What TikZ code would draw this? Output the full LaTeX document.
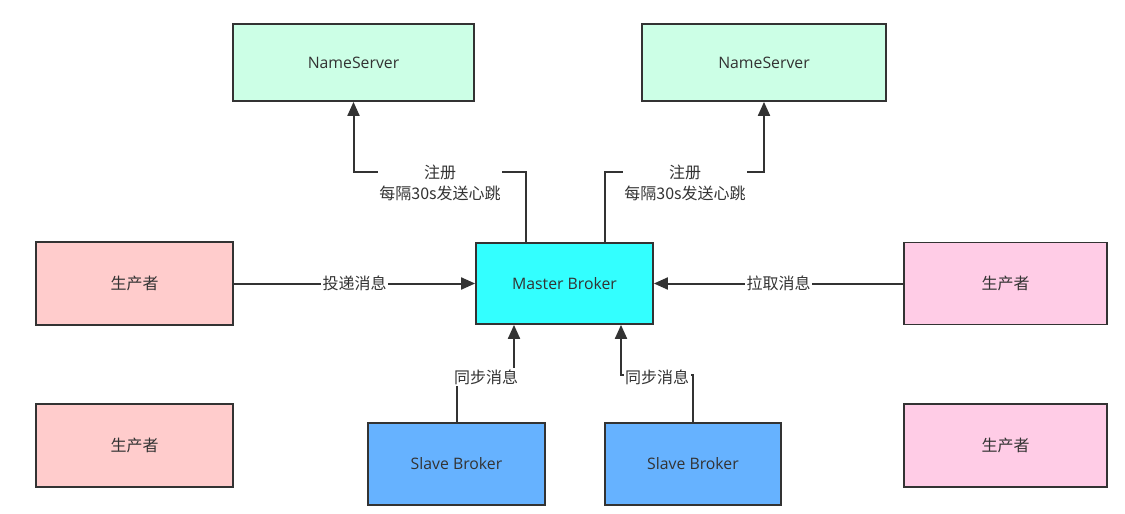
\documentclass[tikz,border=0pt]{standalone}
\usepackage{fontspec}
\setmainfont{Noto Sans CJK SC}
\newfontfamily\latinfont{Open Sans}
\usetikzlibrary{arrows.meta,calc}
\definecolor{ln}{HTML}{333333}
\definecolor{nsfill}{HTML}{CCFFE6}
\definecolor{pfill}{HTML}{FFCCCC}
\definecolor{cfill}{HTML}{FFCCE6}
\definecolor{mfill}{HTML}{33FFFF}
\definecolor{sfill}{HTML}{66B2FF}
\tikzset{
  box/.style={draw=ln, line width=1.8pt, rectangle, inner sep=0pt, text=ln, font=\fontsize{15.8pt}{18pt}\selectfont\latinfont},
  cbox/.style={box, font=\fontsize{16pt}{18pt}\selectfont},
  arr/.style={draw=ln, line width=2pt, -{Triangle[length=14pt,width=12pt]}},
  lbl/.style={fill=white, text=ln, inner sep=1.5pt, font=\fontsize{16pt}{21pt}\selectfont, align=center}
}
\begin{document}
\begin{tikzpicture}[x=1pt,y=-1pt]
\useasboundingbox (0,0) rectangle (1125,514);
\fill[white] (0,0) rectangle (1125,514);
% nodes
\node[box, fill=nsfill, minimum width=241pt, minimum height=77pt] (ns1) at (353.5,62.5) {NameServer};
\node[box, fill=nsfill, minimum width=244pt, minimum height=77pt] (ns2) at (764,62.5) {NameServer};
\node[cbox, fill=pfill, minimum width=197pt, minimum height=83pt] (p1) at (134.5,283.5) {生产者};
\node[cbox, fill=pfill, minimum width=197pt, minimum height=83pt] (p2) at (134.5,445.5) {生产者};
\node[box, fill=mfill, minimum width=177pt, minimum height=81pt] (m) at (564.5,283.5) {Master Broker};
\node[cbox, fill=cfill, minimum width=203pt, minimum height=82pt] (c1) at (1005.5,283.5) {生产者};
\node[cbox, fill=cfill, minimum width=203pt, minimum height=83pt] (c2) at (1005.5,445.5) {生产者};
\node[box, fill=sfill, minimum width=177pt, minimum height=82pt] (s1) at (456.5,464) {Slave Broker};
\node[box, fill=sfill, minimum width=176pt, minimum height=82pt] (s2) at (693,464) {Slave Broker};
% bend coordinates
\coordinate (a1) at (526,172);
\coordinate (a2) at (605,172);
\coordinate (b1) at (514,375);
\coordinate (b2) at (621,375);
% connectors
\draw[arr] (m.north -| a1) -- (a1) -| (ns1.south);
\draw[arr] (m.north -| a2) -- (a2) -| (ns2.south);
\draw[arr] (p1.east) -- node[lbl] (l3) {投递消息} (m.west);
\draw[arr] (c1.west) -- node[lbl] (l4) {拉取消息} (m.east);
\draw[arr] (s1.north) |- (b1) -- (m.south -| b1);
\draw[arr] (s2.north) |- (b2) -- (m.south -| b2);
% labels
\node[lbl] (l1) at (440,183) {注册\\每隔30s发送心跳};
\node[lbl] (l2) at (685,183) {注册\\每隔30s发送心跳};
\node[lbl] (l5) at (486,377) {同步消息};
\node[lbl] (l6) at (657,377) {同步消息};
\end{tikzpicture}
\end{document}
